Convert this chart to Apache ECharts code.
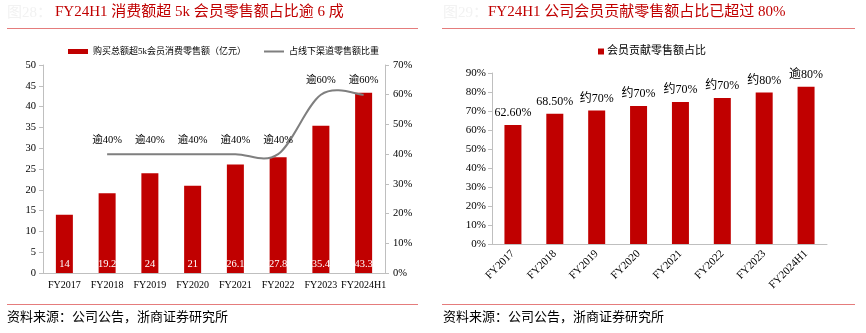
<!DOCTYPE html>
<html>
<head>
<meta charset="utf-8">
<script src="https://cdn.jsdelivr.net/npm/echarts@6/dist/echarts.min.js"></script>
<style>
html,body{margin:0;padding:0;background:#fff;}
#c{width:866px;height:333px;}
</style>
</head>
<body>
<div id="c"></div>
<script>
// ---- data ----
var leftCategories = ['FY2017','FY2018','FY2019','FY2020','FY2021','FY2022','FY2023','FY2024H1'];
var salesValues = [14, 19.2, 24, 21, 26.1, 27.8, 35.4, 43.3];
var shareValues = [null, 40, 40, 40, 40, 40, 60, 60];
var shareLabels = ['', '逾40%', '逾40%', '逾40%', '逾40%', '逾40%', '逾60%', '逾60%'];
var rightCategories = ['FY2017','FY2018','FY2019','FY2020','FY2021','FY2022','FY2023','FY2024H1'];
var memberShare = [62.6, 68.5, 70.2, 72.6, 74.7, 76.8, 79.8, 82.8];
var memberLabels = ['62.60%', '68.50%', '约70%', '约70%', '约70%', '约70%', '约80%', '逾80%'];
var leftTicks = [0, 50, 5];
var rightTicksPct = [0, 70, 10];
var memberTicks = [0, 90, 10];

var SERIF = '"Liberation Serif","Noto Sans CJK SC",serif';
var RED = '#C00000';
var GRAY = '#7f7f7f';
var AX = '#bfbfbf';

var chart = echarts.init(document.getElementById('c'), null, {renderer: 'canvas'});

function hline(x1, x2, y) {
  return {type: 'line', shape: {x1: x1, y1: y, x2: x2, y2: y}, style: {stroke: '#e57c7c', lineWidth: 1.2}, silent: true};
}
function txt(x, y, s, size, color) {
  return {type: 'text', left: x, top: y, style: {text: s, font: size + 'px ' + SERIF, fill: color}, silent: true};
}

// smooth (Catmull-Rom style) curve through the points, positioned by the axes
function renderShare(params, api) {
  var idx = params.dataIndex;
  var children = [];
  var v = shareValues[idx];
  if (v != null) {
    var p = api.coord([idx, v]);
    children.push({
      type: 'text',
      style: {text: shareLabels[idx], x: p[0], y: p[1] - 9, align: 'center', verticalAlign: 'bottom',
        font: '10.5px ' + SERIF, fill: '#000'},
      z2: 10
    });
  }
  if (idx === shareValues.length - 1) {
    var pts = [];
    for (var i = 0; i < shareValues.length; i++) {
      if (shareValues[i] != null) pts.push(api.coord([i, shareValues[i]]));
    }
    var d = 'M' + pts[0][0] + ',' + pts[0][1];
    for (var k = 0; k < pts.length - 1; k++) {
      var p0 = pts[Math.max(k - 1, 0)], p1 = pts[k], p2 = pts[k + 1], p3 = pts[Math.min(k + 2, pts.length - 1)];
      var c1x = p1[0] + (p2[0] - p0[0]) / 6, c1y = p1[1] + (p2[1] - p0[1]) / 6;
      var c2x = p2[0] - (p3[0] - p1[0]) / 6, c2y = p2[1] - (p3[1] - p1[1]) / 6;
      d += ' C' + c1x + ',' + c1y + ' ' + c2x + ',' + c2y + ' ' + p2[0] + ',' + p2[1];
    }
    children.push({
      type: 'path',
      shape: {pathData: d},
      style: {stroke: GRAY, lineWidth: 2, fill: null},
      z2: 5
    });
  }
  return {type: 'group', children: children};
}

var option = {
  animation: false,
  backgroundColor: '#fff',
  graphic: [
    txt(7, 6, '图28：', 15, '#f2f2f2'),
    txt(55, 5, 'FY24H1 消费额超 5k 会员零售额占比逾 6 成', 15, RED),
    hline(7, 418, 28.5),
    hline(7, 418, 304.5),
    txt(7, 311, '资料来源：公司公告，浙商证券研究所', 13, '#000'),
    txt(443, 6, '图29：', 15, '#f2f2f2'),
    txt(488, 5, 'FY24H1 公司会员贡献零售额占比已超过 80%', 15, RED),
    hline(442, 855, 28.5),
    hline(442, 855, 304.5),
    txt(443, 311, '资料来源：公司公告，浙商证券研究所', 13, '#000')
  ],
  legend: [
    {
      left: 63, top: 42, itemWidth: 20, itemHeight: 5, itemGap: 18,
      data: [
        {name: '购买总额超5k会员消费零售额（亿元）', icon: 'rect'},
        {name: '占线下渠道零售额比重', icon: 'path://M0,0 L20,0 L20,2 L0,2 Z'}
      ],
      textStyle: {fontSize: 9, color: '#000', fontFamily: SERIF}
    },
    {
      left: 593, top: 41, itemWidth: 6, itemHeight: 6, itemGap: 10,
      data: [{name: '会员贡献零售额占比', icon: 'rect'}],
      textStyle: {fontSize: 11, color: '#000', fontFamily: SERIF, padding: [0, 0, 0, -2]}
    }
  ],
  grid: [
    {left: 43, top: 65, width: 342, height: 208, containLabel: false},
    {left: 492, top: 73, width: 335, height: 171, containLabel: false}
  ],
  xAxis: [
    {
      type: 'category', gridIndex: 0, data: leftCategories,
      axisLine: {lineStyle: {color: AX}}, axisTick: {length: 4, lineStyle: {color: AX}},
      axisLabel: {color: '#000', fontSize: 10, fontFamily: SERIF, margin: 7, interval: 0}
    },
    {
      type: 'category', gridIndex: 1, data: rightCategories,
      axisLine: {lineStyle: {color: AX}}, axisTick: {length: 4, lineStyle: {color: AX}},
      axisLabel: {color: '#000', fontSize: 11, fontFamily: SERIF, rotate: 45, margin: 8, interval: 0}
    }
  ],
  yAxis: [
    {
      type: 'value', gridIndex: 0, min: leftTicks[0], max: leftTicks[1], interval: leftTicks[2],
      axisLine: {show: true, lineStyle: {color: AX}}, axisTick: {show: true, length: 4, lineStyle: {color: AX}},
      splitLine: {show: false},
      axisLabel: {color: '#000', fontSize: 10.5, fontFamily: SERIF, margin: 7}
    },
    {
      type: 'value', gridIndex: 0, position: 'right', min: rightTicksPct[0], max: rightTicksPct[1], interval: rightTicksPct[2],
      axisLine: {show: true, lineStyle: {color: AX}}, axisTick: {show: true, length: 4, lineStyle: {color: AX}},
      splitLine: {show: false},
      axisLabel: {color: '#000', fontSize: 10.5, fontFamily: SERIF, margin: 8, formatter: '{value}%'}
    },
    {
      type: 'value', gridIndex: 1, min: memberTicks[0], max: memberTicks[1], interval: memberTicks[2],
      axisLine: {show: true, lineStyle: {color: AX}}, axisTick: {show: true, length: 4, lineStyle: {color: AX}},
      splitLine: {show: false},
      axisLabel: {color: '#000', fontSize: 11, fontFamily: SERIF, margin: 6, formatter: '{value}%'}
    }
  ],
  series: [
    {
      name: '购买总额超5k会员消费零售额（亿元）', type: 'bar', xAxisIndex: 0, yAxisIndex: 0,
      data: salesValues, barWidth: 17, itemStyle: {color: RED},
      label: {show: true, position: 'insideBottom', distance: 4, color: '#fff', fontSize: 10.5, fontFamily: SERIF}
    },
    {
      name: '占线下渠道零售额比重', type: 'custom', xAxisIndex: 0, yAxisIndex: 1,
      data: shareValues.map(function (v, i) { return [i, v == null ? 0 : v]; }),
      encode: {x: 0, y: 1},
      renderItem: renderShare,
      itemStyle: {color: GRAY},
      clip: false,
      z: 3
    },
    {
      name: '会员贡献零售额占比', type: 'bar', xAxisIndex: 1, yAxisIndex: 2,
      data: memberShare, barWidth: 17, itemStyle: {color: RED},
      label: {show: true, position: 'top', distance: 6, color: '#000', fontSize: 12, fontFamily: SERIF,
        formatter: function (p) { return memberLabels[p.dataIndex]; }}
    }
  ]
};
chart.setOption(option);
</script>
</body>
</html>
